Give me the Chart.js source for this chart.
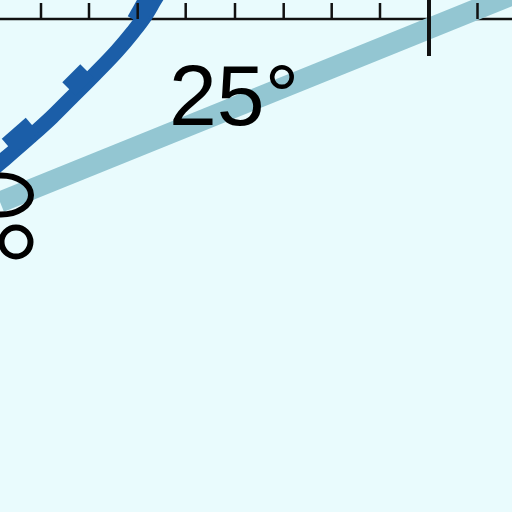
<!DOCTYPE html>
<html>
<head>
<meta charset="utf-8">
<script src="https://cdn.jsdelivr.net/npm/chart.js@4.4.1/dist/chart.umd.min.js"></script>
<style>
html, body { margin: 0; padding: 0; background: #e9fbfd; }
#wrap { width: 512px; height: 512px; }
</style>
</head>
<body>
<div id="wrap"><canvas id="myChart"></canvas></div>
<script>
var ctx = document.getElementById('myChart').getContext('2d');

/* light blue straight band */
const bandX = [0, 512];
const bandY = [202, -5];

/* dark blue arc */
const curveX = [-12, 7, 30, 52, 70, 95, 117, 133, 145, 154, 160];
const curveY = [173, 157, 137, 117, 99, 74, 51, 32, 16, 1, -9];

/* short marks along the arc (start / end) */
const markX1 = [8, 69, 136];
const markY1 = [146, 89, 21];
const markX2 = [32, 87, 149];
const markY2 = [125, 71, -2];

/* ruler */
const rulerY = 19;
const tickX = [41, 89, 137.7, 185.7, 235, 283.7, 331.7, 380, 477.5];
const tickTop = 3;
const majorX = 429;
const majorTop = -1;
const majorBottom = 56;

/* label */
const labelText = '25°';
const labelX = 169;
const labelY = 125;

/* outline rings on the left */
const ringX = [1, 16];
const ringY = [195, 242];
const ringRx = [30, 14.5];
const ringRy = [19.5, 14.5];

function pts(xs, ys) {
    return xs.map((x, i) => ({ x: x, y: ys[i] }));
}

const datasets = [];

tickX.forEach(function (tx) {
    datasets.push({
        data: [{ x: tx, y: tickTop }, { x: tx, y: rulerY }],
        borderColor: '#111',
        borderWidth: 2.5,
        order: 10
    });
});
datasets.push({
    data: [{ x: majorX, y: majorTop }, { x: majorX, y: majorBottom }],
    borderColor: '#111',
    borderWidth: 4,
    order: 10
});

markX1.forEach(function (mx, i) {
    datasets.push({
        data: [{ x: mx, y: markY1[i] }, { x: markX2[i], y: markY2[i] }],
        borderColor: '#1b5ea8',
        borderWidth: 19,
        order: 30
    });
});

datasets.push({
    data: pts(curveX, curveY),
    borderColor: '#1b5ea8',
    borderWidth: 15,
    cubicInterpolationMode: 'monotone',
    order: 31
});

datasets.push({
    data: [{ x: 0, y: rulerY }, { x: 512, y: rulerY }],
    borderColor: '#111',
    borderWidth: 2.5,
    order: 60
});

datasets.push({
    data: pts(bandX, bandY),
    borderColor: '#93c6d2',
    borderWidth: 21,
    order: 50
});

const overlay = {
    id: 'overlay',
    afterDatasetsDraw(chart) {
        const c = chart.ctx;
        const xs = chart.scales.x, ys = chart.scales.y;
        c.save();
        c.strokeStyle = '#000';
        c.lineWidth = 6;
        ringX.forEach(function (rx, i) {
            const px = xs.getPixelForValue(rx);
            const py = ys.getPixelForValue(ringY[i]);
            const w = xs.getPixelForValue(rx + ringRx[i]) - px;
            const h = ys.getPixelForValue(ringY[i] + ringRy[i]) - py;
            c.beginPath();
            c.ellipse(px, py, Math.abs(w), Math.abs(h), 0, 0, Math.PI * 2);
            c.stroke();
        });
        c.fillStyle = '#000';
        c.font = '86px "Liberation Sans", Arial, sans-serif';
        c.textBaseline = 'alphabetic';
        c.textAlign = 'left';
        c.fillText(labelText, xs.getPixelForValue(labelX), ys.getPixelForValue(labelY));
        c.restore();
    }
};

var myChart = new Chart(ctx, {
    type: 'scatter',
    data: { datasets: datasets.map(d => Object.assign({
        showLine: true,
        pointRadius: 0,
        pointHoverRadius: 0,
        borderCapStyle: 'butt',
        fill: false
    }, d)) },
    options: {
        responsive: true,
        maintainAspectRatio: false,
        animation: false,
        events: [],
        layout: { padding: 0, autoPadding: false },
        plugins: { legend: { display: false }, tooltip: { enabled: false } },
        scales: {
            x: { type: 'linear', min: 0, max: 512, display: false },
            y: { type: 'linear', min: 0, max: 512, reverse: true, display: false }
        }
    },
    plugins: [overlay]
});
</script>
</body>
</html>
